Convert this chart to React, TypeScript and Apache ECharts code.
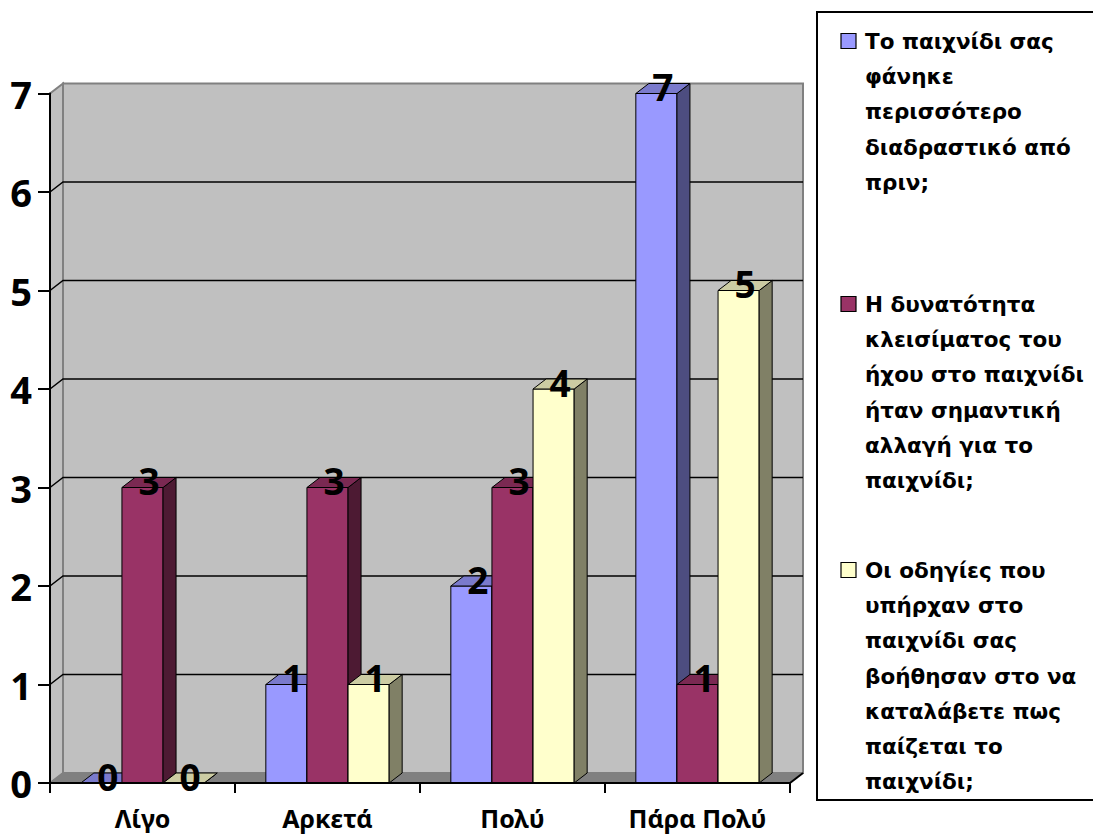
import React, { useEffect, useRef } from "react";
import * as echarts from "echarts";

const categories = ["Λίγο", "Αρκετά", "Πολύ", "Πάρα Πολύ"];
const seriesNames = [
  "Το παιχνίδι σας\nφάνηκε\nπερισσότερο\nδιαδραστικό από\nπριν;",
  "Η δυνατότητα\nκλεισίματος του\nήχου στο παιχνίδι\nήταν σημαντική\nαλλαγή για το\nπαιχνίδι;",
  "Οι οδηγίες που\nυπήρχαν στο\nπαιχνίδι σας\nβοήθησαν στο να\nκαταλάβετε πως\nπαίζεται το\nπαιχνίδι;",
];
const interactiveValues = [0, 1, 2, 7];
const soundValues = [3, 3, 3, 1];
const instructionsValues = [0, 1, 4, 5];
const yMin = 0;
const yMax = 7;
const yInterval = 1;

const FONT = '"Noto Sans", "DejaVu Sans", sans-serif';
const LEGEND_FONT = '"DejaVu Sans", "Noto Sans", sans-serif';
const DX = 13;
const DY = -10;
const frontColors = ["#9999FF", "#993366", "#FFFFCC"];
const topColors = ["#7A7ACC", "#7A2952", "#CCCCA3"];
const sideColors = ["#4D4D80", "#4D1A33", "#808066"];

export default function App() {
  const ref = useRef<HTMLDivElement>(null);
  useEffect(() => {
    document.body.style.margin = "0";
    if (!ref.current) return;
    const chart = echarts.init(ref.current, undefined, { renderer: "svg" });
    const allValues = [interactiveValues, soundValues, instructionsValues];

    const barGeom = (s: number, api: any) => {
      const cat = api.value(0);
      const v = api.value(1);
      const base = api.coord([cat, 0]);
      const top = api.coord([cat, v]);
      const catW = api.size([1, 0])[0];
      const b = catW / 4.5;
      const x = base[0] - catW / 2 + 0.75 * b + s * b;
      return { x, b, yt: top[1], yb: base[1], v };
    };

    const barSeries = allValues.map((vals, s) => ({
      type: "custom",
      name: seriesNames[s],
      z: 2,
      data: vals.map((v, i) => [i, v]),
      renderItem: (params: any, api: any) => {
        const { x, b, yt, yb } = barGeom(s, api);
        return {
          type: "group",
          children: [
            {
              type: "rect",
              shape: { x, y: yt, width: b, height: yb - yt },
              style: { fill: frontColors[s], stroke: "#000", lineWidth: 1 },
            },
            {
              type: "polygon",
              shape: { points: [[x + b, yt], [x + b + DX, yt + DY], [x + b + DX, yb + DY], [x + b, yb]] },
              style: { fill: sideColors[s], stroke: "#000", lineWidth: 1 },
            },
            {
              type: "polygon",
              shape: { points: [[x, yt], [x + DX, yt + DY], [x + b + DX, yt + DY], [x + b, yt]] },
              style: { fill: topColors[s], stroke: "#000", lineWidth: 1 },
            },
          ],
        };
      },
    }));

    const labelSeries = allValues.map((vals, s) => ({
      type: "custom",
      name: "labels" + s,
      z: 4,
      silent: true,
      data: vals.map((v, i) => [i, v]),
      renderItem: (params: any, api: any) => {
        const { x, b, yt, v } = barGeom(s, api);
        return {
          type: "text",
          style: {
            text: String(v),
            x: x + b / 2 + DX / 2,
            y: yt + DY / 2 - 2,
            align: "center",
            verticalAlign: "middle",
            font: `bold 37px ${FONT}`,
            fill: "#000",
          },
        };
      },
    }));

    const wallSeries = {
      type: "custom",
      name: "walls",
      z: 1,
      silent: true,
      data: [[0, 0]],
      renderItem: (params: any, api: any) => {
        const cs = params.coordSys;
        const x0 = cs.x;
        const x1 = cs.x + cs.width;
        const y0 = api.coord([0, yMin])[1];
        const yT = api.coord([0, yMax])[1];
        const children: any[] = [
          {
            type: "rect",
            shape: { x: x0 + DX, y: yT + DY, width: x1 - x0, height: y0 - yT },
            style: { fill: "#C0C0C0", stroke: "#808080", lineWidth: 2 },
          },
          {
            type: "polygon",
            shape: { points: [[x0, y0], [x0 + DX, y0 + DY], [x0 + DX, yT + DY], [x0, yT]] },
            style: { fill: "#C0C0C0", stroke: "#808080", lineWidth: 2 },
          },
          {
            type: "polygon",
            shape: { points: [[x0, y0], [x1, y0], [x1 + DX, y0 + DY], [x0 + DX, y0 + DY]] },
            style: { fill: "#808080", stroke: "#808080", lineWidth: 1 },
          },
          {
            type: "line",
            shape: { x1: x1, y1: y0, x2: x1 + DX, y2: y0 + DY },
            style: { stroke: "#000", lineWidth: 2 },
          },
        ];
        for (let v = yMin + yInterval; v < yMax; v += yInterval) {
          const yv = api.coord([0, v])[1];
          children.push({
            type: "polyline",
            shape: { points: [[x0, yv], [x0 + DX, yv + DY], [x1 + DX, yv + DY]] },
            style: { stroke: "#000", lineWidth: 1.5, fill: null },
          });
        }
        return { type: "group", children };
      },
    };

    const legendFirstCenters = [41, 304, 570];
    const legendGraphics: any[] = [
      {
        type: "rect",
        shape: { x: 817, y: 12, width: 300, height: 788 },
        style: { fill: "#fff", stroke: "#000", lineWidth: 2 },
        z: 0,
      },
    ];
    seriesNames.forEach((name, s) => {
      const c = legendFirstCenters[s];
      legendGraphics.push({
        type: "rect",
        shape: { x: 841, y: c - 7.5, width: 15, height: 15 },
        style: { fill: frontColors[s], stroke: "#000", lineWidth: 1.2 },
        z: 1,
      });
      legendGraphics.push({
        type: "text",
        x: 865,
        y: c - 17.5,
        style: {
          text: name,
          font: `bold 21.5px ${LEGEND_FONT}`,
          fill: "#000",
          lineHeight: 35.3,
          verticalAlign: "top",
          align: "left",
        },
        z: 1,
      });
    });

    chart.setOption({
      animation: false,
      backgroundColor: "#fff",
      grid: { left: 50, right: 303, top: 93.5, bottom: 51, containLabel: false },
      xAxis: {
        type: "category",
        data: categories,
        z: 5,
        axisLine: { show: true, lineStyle: { color: "#000", width: 2 } },
        axisTick: { show: true, length: 10, lineStyle: { color: "#000", width: 2 } },
        axisLabel: { color: "#000", fontSize: 25, fontWeight: "bold", fontFamily: FONT, margin: 22 },
        splitLine: { show: false },
      },
      yAxis: {
        type: "value",
        min: yMin,
        max: yMax,
        interval: yInterval,
        z: 5,
        axisLine: { show: true, lineStyle: { color: "#000", width: 2 } },
        axisTick: { show: true, length: 12, lineStyle: { color: "#000", width: 2 } },
        axisLabel: { color: "#000", fontSize: 38, fontWeight: "bold", fontFamily: FONT, margin: 18 },
        splitLine: { show: false },
      },
      graphic: legendGraphics,
      series: [wallSeries, ...barSeries, ...labelSeries],
    });
    return () => chart.dispose();
  }, []);
  return <div ref={ref} style={{ width: 1093, height: 834 }} />;
}
